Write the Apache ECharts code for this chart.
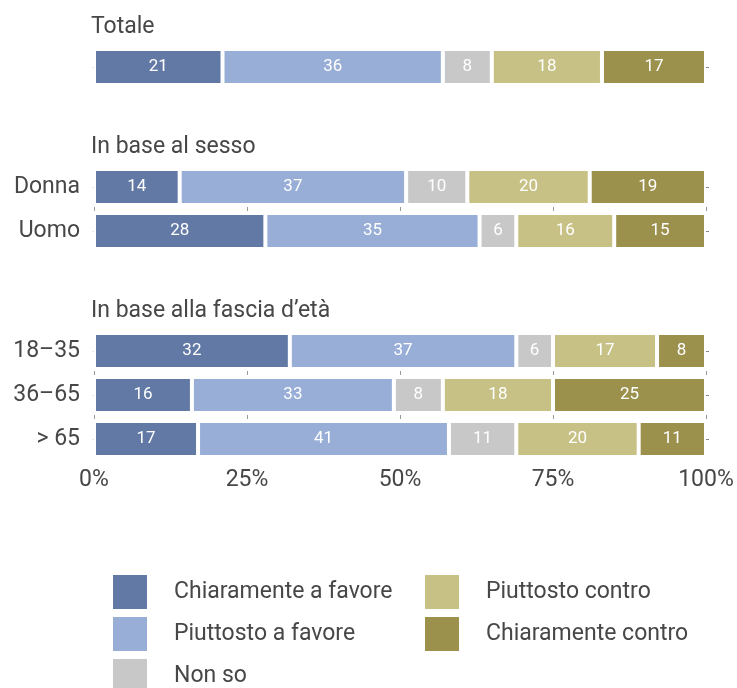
<!DOCTYPE html>
<html>
<head>
<meta charset="utf-8">
<script src="https://cdn.jsdelivr.net/npm/echarts@6/dist/echarts.min.js"></script>
<style>
  html, body { margin: 0; padding: 0; background: #fff; }
  #chart { width: 737px; height: 688px; }
</style>
</head>
<body>
<div id="chart"></div>
<script>
// Answer categories (stack order, left to right)
const answers = ['Chiaramente a favore', 'Piuttosto a favore', 'Non so', 'Piuttosto contro', 'Chiaramente contro'];
const colors = ['#6279a5', '#99aed6', '#c8c8c8', '#c7c186', '#9b914d'];

// Group titles
const groupTitles = ['Totale', 'In base al sesso', 'In base alla fascia d\u2019età'];

// Rows per group
const totaleCats = ['Totale'];
const sessoCats = ['Donna', 'Uomo'];
const etaCats = ['18–35', '36–65', '> 65'];

// Shares (%) per row, in answer order
const totale = [21, 36, 8, 18, 17];
const donna = [14, 37, 10, 20, 19];
const uomo = [28, 35, 6, 16, 15];
const eta1835 = [32, 37, 6, 17, 8];
const eta3665 = [16, 33, 8, 18, 25];
const eta65 = [17, 41, 11, 20, 11];

// X axis ticks
const xTicks = [0, 25, 50, 75, 100];

const groups = [
  { cats: totaleCats, rows: [totale], showCats: false },
  { cats: sessoCats, rows: [donna, uomo], showCats: true },
  { cats: etaCats, rows: [eta1835, eta3665, eta65], showCats: true }
];

const FONT = 'Roboto';
const TEXT = '#474747';
const BAND = 44;
const gridTops = [45, 165, 329];
const titleCenters = [30, 150, 314];

// short tick marks between rows: dash pattern along each vertical split line
function rowSeparatorDash(n) {
  if (n < 2) return null;
  const pattern = [];
  for (let i = 1; i < n; i++) pattern.push(4, i < n - 1 ? BAND - 4 : 400);
  const period = pattern.reduce((a, b) => a + b, 0);
  return { type: pattern, dashOffset: period - (BAND - 2) };
}

const grids = groups.map((g, i) => ({
  left: 94, right: 31, top: gridTops[i], height: BAND * g.cats.length
}));

const xAxes = groups.map((g, i) => {
  const dash = rowSeparatorDash(g.cats.length);
  return {
    gridIndex: i, type: 'value', min: xTicks[0], max: xTicks[xTicks.length - 1],
    interval: xTicks[1] - xTicks[0],
    axisLine: { show: false }, axisTick: { show: false },
    splitLine: dash ? {
      show: true,
      lineStyle: { color: '#9a9a9a', width: 1, type: dash.type, dashOffset: dash.dashOffset }
    } : { show: false },
    axisLabel: {
      show: i === groups.length - 1, formatter: '{value}%', margin: 8,
      fontFamily: FONT, fontSize: 23, color: TEXT
    }
  };
});

const yAxes = [];
groups.forEach((g, i) => {
  yAxes.push({
    gridIndex: i, type: 'category', data: g.cats, inverse: true,
    axisLine: { show: false },
    axisTick: { show: true, alignWithLabel: true, length: 2, lineStyle: { color: '#e6e6e6' } },
    axisLabel: { show: g.showCats, margin: 14, fontFamily: FONT, fontSize: 23, color: TEXT }
  });
});
groups.forEach((g, i) => {
  yAxes.push({
    gridIndex: i, type: 'category', data: g.cats, inverse: true, position: 'right',
    axisLine: { show: false },
    axisTick: { show: true, alignWithLabel: true, length: 3, lineStyle: { color: '#888' } },
    axisLabel: { show: false }
  });
});

const series = [];
groups.forEach((g, gi) => {
  answers.forEach((name, k) => {
    series.push({
      name, type: 'bar', stack: 'g' + gi, xAxisIndex: gi, yAxisIndex: gi,
      barWidth: 36,
      itemStyle: { color: colors[k], borderColor: '#fff', borderWidth: 2 },
      label: { show: true, position: 'inside', color: '#fff', fontFamily: FONT, fontSize: 17 },
      emphasis: { disabled: true },
      data: g.rows.map(r => r[k])
    });
  });
});
// invisible carrier for the right-hand axis ticks
groups.forEach((g, gi) => {
  series.push({
    type: 'bar', xAxisIndex: gi, yAxisIndex: groups.length + gi, silent: true,
    itemStyle: { opacity: 0 }, data: g.cats.map(() => 0)
  });
});

const legendCommon = {
  orient: 'vertical', itemWidth: 34, itemHeight: 34, itemGap: 8, icon: 'rect',
  height: 160,
  itemStyle: { borderWidth: 0 },
  textStyle: { fontFamily: FONT, fontSize: 23, color: TEXT, padding: [3, 0, 0, 22] },
  selectedMode: false
};

const chart = echarts.init(document.getElementById('chart'), null, { renderer: 'canvas' });
chart.setOption({
  animation: false,
  color: colors,
  graphic: groupTitles.map((t, i) => ({
    type: 'text', left: 91, top: titleCenters[i] - 14,
    style: { text: t, fontFamily: FONT, fontSize: 23, fill: TEXT }
  })),
  grid: grids,
  xAxis: xAxes,
  yAxis: yAxes,
  legend: [
    Object.assign({ left: 108, top: 570, data: answers.slice(0, 3) }, legendCommon),
    Object.assign({ left: 420, top: 570, data: answers.slice(3) }, legendCommon)
  ],
  series
});
</script>
</body>
</html>
